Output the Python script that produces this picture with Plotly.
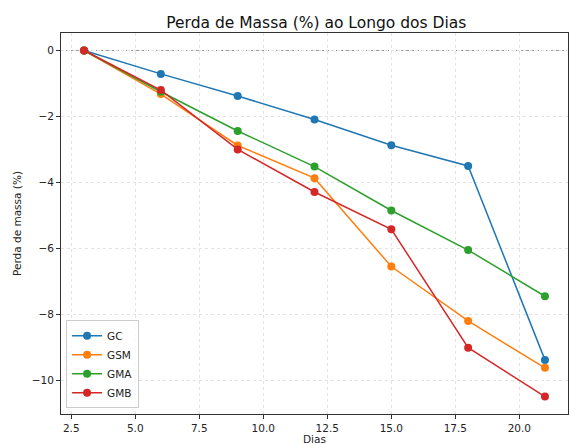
import plotly.graph_objects as go

dias = [3, 6, 9, 12, 15, 18, 21]
gc = [0, -0.71, -1.38, -2.09, -2.87, -3.50, -9.38]
gsm = [0, -1.32, -2.88, -3.87, -6.55, -8.20, -9.62]
gma = [0, -1.25, -2.44, -3.52, -4.85, -6.05, -7.45]
gmb = [0, -1.20, -3.00, -4.29, -5.42, -9.01, -10.49]

series = [("GC", gc, "#1f77b4"), ("GSM", gsm, "#ff7f0e"),
          ("GMA", gma, "#2ca02c"), ("GMB", gmb, "#d62728")]

fig = go.Figure()
for name, vals, col in series:
    fig.add_trace(go.Scatter(x=dias, y=vals, name=name, mode="lines+markers",
                             line=dict(color=col, width=1.5),
                             marker=dict(color=col, size=8)))

fig.add_hline(y=0, line=dict(color="#999999", width=1, dash="3px,2px"), layer="below")

axis_common = dict(showline=True, linecolor="#333333", linewidth=1, mirror=True,
                   ticks="outside", ticklen=4, tickcolor="#333333",
                   showgrid=True, gridcolor="#e3e3e3", griddash="3px,3px", gridwidth=1,
                   zeroline=False, tickfont=dict(size=10.5, color="#222222"),
                   automargin=False)

fig.update_layout(
    width=570, height=445,
    margin=dict(l=61, r=2, t=33, b=31),
    paper_bgcolor="white", plot_bgcolor="white",
    font=dict(family="DejaVu Sans", color="#222222"),
    title=dict(text="Perda de Massa (%) ao Longo dos Dias", x=0.555, xanchor="center",
               y=0.95, yanchor="middle", font=dict(size=15.5, color="#111111")),
    xaxis=dict(range=[2.1, 21.9], tickvals=[2.5, 5, 7.5, 10, 12.5, 15, 17.5, 20],
               ticktext=["2.5", "5.0", "7.5", "10.0", "12.5", "15.0", "17.5", "20.0"],
               title=dict(text="Dias", font=dict(size=10.5), standoff=4), **axis_common),
    yaxis=dict(range=[-11.02, 0.53], tickvals=[0, -2, -4, -6, -8, -10],
               ticktext=["0", "−2", "−4", "−6", "−8", "−10"],
               title=dict(text="Perda de massa (%)", font=dict(size=10.5), standoff=8), **axis_common),
    legend=dict(x=0.01, y=0.015, xanchor="left", yanchor="bottom",
                bgcolor="rgba(255,255,255,0.8)", bordercolor="#cccccc", borderwidth=1,
                font=dict(size=10.5), tracegroupgap=0, itemwidth=30),
    showlegend=True,
)

fig.write_html("out.html", config={"displayModeBar": False},
               post_script="document.body.style.margin='0';document.body.style.padding='0';")
